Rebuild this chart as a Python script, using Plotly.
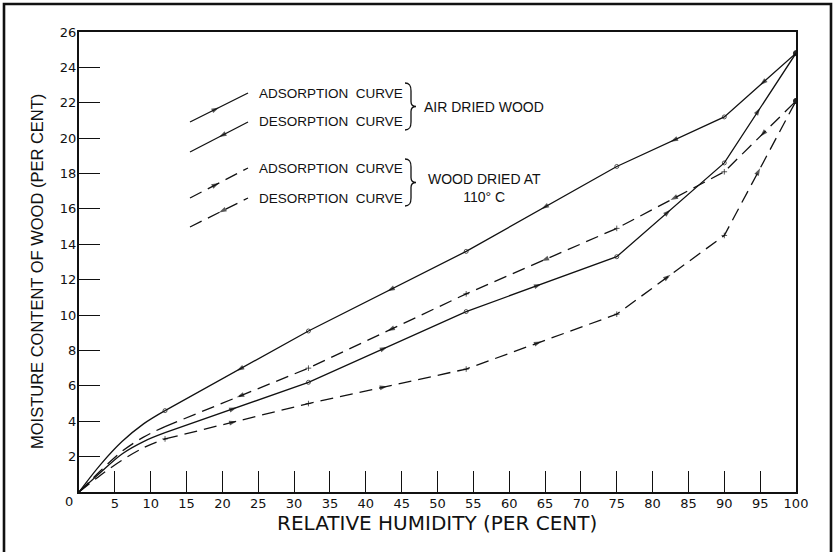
import plotly.graph_objects as go

# ---------------- data ----------------
rh = [12, 32, 54, 75, 90, 100]
desorp_air = [4.6, 9.1, 13.6, 18.4, 21.2, 24.8]     # air dried wood, desorption
adsorp_air = [3.35, 6.2, 10.2, 13.3, 18.6, 24.8]    # air dried wood, adsorption
desorp_oven = [3.7, 7.0, 11.2, 14.9, 18.1, 22.1]    # dried at 110 C, desorption
adsorp_oven = [3.0, 5.0, 6.95, 10.05, 14.5, 22.1]   # dried at 110 C, adsorption

# curved starting portion of every curve (0-12 % RH)
rh_low = [0, 3, 6, 9, 12]
desorp_air_low = [0, 1.55, 2.85, 3.85, 4.6]
adsorp_air_low = [0, 1.1, 2.15, 2.85, 3.35]
desorp_oven_low = [0, 1.2, 2.3, 3.1, 3.7]
adsorp_oven_low = [0, 0.95, 1.8, 2.5, 3.0]

x_ticks = list(range(5, 101, 5))
y_ticks = list(range(2, 27, 2))

legend_curves = ["ADSORPTION\u00a0\u00a0CURVE", "DESORPTION\u00a0\u00a0CURVE"]
group_labels = ["AIR DRIED WOOD", "WOOD DRIED AT<br>110° C"]
x_title = "RELATIVE HUMIDITY (PER CENT)"
y_title = "MOISTURE CONTENT OF WOOD (PER CENT)"

# ---------------- layout constants ----------------
W, H = 834, 552
ML, MR, MT, MB = 79, 38, 32, 60
PW, PH = W - ML - MR, H - MT - MB
INK = "#111111"
FONT = "Liberation Sans"
TFONT = "DejaVu Sans"
DASH = "13px,7px"


def px(x):
    return (x - ML) / PW


def py(y):
    return (H - MB - y) / PH


fig = go.Figure()


def arrow_trace(x, y, direction, xa="x", ya="y"):
    ax, ay, sz = [], [], []
    for i in range(len(x) - 1):
        ax += [x[i], (x[i] + x[i + 1]) / 2]
        ay += [y[i], (y[i] + y[i + 1]) / 2]
        sz += [0, 8]
    return go.Scatter(x=ax, y=ay, mode="markers", hoverinfo="skip", xaxis=xa, yaxis=ya,
                      marker=dict(symbol="arrow", size=sz, color=INK,
                                  angleref="previous",
                                  angle=0 if direction > 0 else 180,
                                  line=dict(width=0)))


def add_series(xl, yl, x, y, dash, solid, direction, mark_first):
    fig.add_trace(go.Scatter(x=xl, y=yl, mode="lines",
                             line=dict(color=INK, width=1.3, dash=dash, shape="spline"),
                             hoverinfo="skip"))
    n = len(x)
    sym = "circle-open" if solid else "cross-thin-open"
    syms = [sym] * (n - 1) + ["circle"]
    sizes = [4 if mark_first else 0] + [4] * (n - 2) + [5]
    fig.add_trace(go.Scatter(x=x, y=y, mode="lines+markers",
                             line=dict(color=INK, width=1.3, dash=dash),
                             marker=dict(symbol=syms, size=sizes, color=INK,
                                         line=dict(color=INK, width=1))))
    fig.add_trace(arrow_trace(x, y, direction))


add_series(rh_low, desorp_air_low, rh, desorp_air, "solid", True, -1, True)
add_series(rh_low, adsorp_air_low, rh, adsorp_air, "solid", True, 1, False)
add_series(rh_low, desorp_oven_low, rh, desorp_oven, DASH, False, -1, False)
add_series(rh_low, adsorp_oven_low, rh, adsorp_oven, DASH, False, 1, True)

# legend sample lines, drawn on an invisible pixel-scaled overlay axis pair
samples = [((190, 248), (122, 93), "solid", 1),
           ((190, 248), (152, 122), "solid", -1),
           ((190, 248), (198, 168), DASH, 1),
           ((190, 248), (227, 198), DASH, -1)]
for sx, sy, dash, d in samples:
    fig.add_trace(go.Scatter(x=list(sx), y=list(sy), mode="lines", xaxis="x2", yaxis="y2",
                             hoverinfo="skip", line=dict(color=INK, width=1.3, dash=dash)))
    fig.add_trace(arrow_trace(list(sx), list(sy), d, "x2", "y2"))

shapes = []
annotations = []

# outer page border
shapes.append(dict(type="rect", xref="paper", yref="paper",
                   x0=px(4), x1=px(831), y0=py(600), y1=py(4),
                   line=dict(color=INK, width=2.6)))

# legend texts
for i, yc in enumerate([93, 122, 169, 198]):
    annotations.append(dict(xref="paper", yref="paper", x=px(257), y=py(yc),
                            xanchor="left", yanchor="middle", showarrow=False,
                            text=legend_curves[i % 2],
                            font=dict(family=FONT, size=13.5, color=INK)))
annotations.append(dict(xref="paper", yref="paper", x=px(422), y=py(107),
                        xanchor="left", yanchor="middle", showarrow=False,
                        text=group_labels[0], font=dict(family=FONT, size=14, color=INK)))
annotations.append(dict(xref="paper", yref="paper", x=px(484), y=py(188),
                        xanchor="center", yanchor="middle", showarrow=False, align="center",
                        text=group_labels[1], font=dict(family=FONT, size=14, color=INK)))


def brace(x0, ytop, ybot):
    ym = (ytop + ybot) / 2
    pts = [
        ("M", [(x0, ytop)]),
        ("C", [(x0 + 5, ytop), (x0 + 6, ytop + 3), (x0 + 6, ytop + 8)]),
        ("L", [(x0 + 6, ym - 5)]),
        ("C", [(x0 + 6, ym - 1), (x0 + 8, ym), (x0 + 11, ym)]),
        ("C", [(x0 + 8, ym), (x0 + 6, ym + 1), (x0 + 6, ym + 5)]),
        ("L", [(x0 + 6, ybot - 8)]),
        ("C", [(x0 + 6, ybot - 3), (x0 + 5, ybot), (x0, ybot)]),
    ]
    s = ""
    for cmd, ps in pts:
        s += cmd + " " + " ".join(f"{px(a):.5f},{py(b):.5f}" for a, b in ps) + " "
    return dict(type="path", xref="paper", yref="paper", path=s.strip(),
                line=dict(color=INK, width=1.3))


shapes.append(brace(405, 83, 130))
shapes.append(brace(405, 159, 206))

# axis titles and corner zero
annotations.append(dict(xref="paper", yref="paper", x=px(437), y=py(523),
                        xanchor="center", yanchor="middle", showarrow=False,
                        text=x_title, font=dict(family=TFONT, size=20, color=INK)))
annotations.append(dict(xref="paper", yref="paper", x=px(37), y=py(272),
                        xanchor="center", yanchor="middle", showarrow=False, textangle=-90,
                        text=y_title, font=dict(family=FONT, size=16.5, color=INK)))
annotations.append(dict(x=0, y=0, xref="x", yref="y", text="0", showarrow=False,
                        xshift=-10, yshift=-9, font=dict(family=TFONT, size=13, color=INK)))

axis_common = dict(ticks="inside", ticklen=21, tickwidth=1.2, tickcolor=INK,
                   showline=True, linecolor=INK, linewidth=2.4, mirror=True,
                   showgrid=False, zeroline=False,
                   tickfont=dict(family=TFONT, size=13, color=INK))

fig.update_layout(
    width=W, height=H,
    margin=dict(l=ML, r=MR, t=MT, b=MB),
    paper_bgcolor="white", plot_bgcolor="white",
    showlegend=False,
    shapes=shapes, annotations=annotations,
    xaxis=dict(range=[0, 100], tickvals=x_ticks, ticktext=[str(v) for v in x_ticks],
               ticklabelstandoff=-2, **axis_common),
    yaxis=dict(range=[0, 26], tickvals=y_ticks, ticktext=[str(v) for v in y_ticks],
               ticklabelstandoff=-2, **axis_common),
    xaxis2=dict(overlaying="x", range=[ML, W - MR], visible=False, fixedrange=True),
    yaxis2=dict(overlaying="y", range=[H - MB, MT], visible=False, fixedrange=True),
)

fig.write_html("out.html", config={"displayModeBar": False},
               post_script="document.body.style.margin='0';")
